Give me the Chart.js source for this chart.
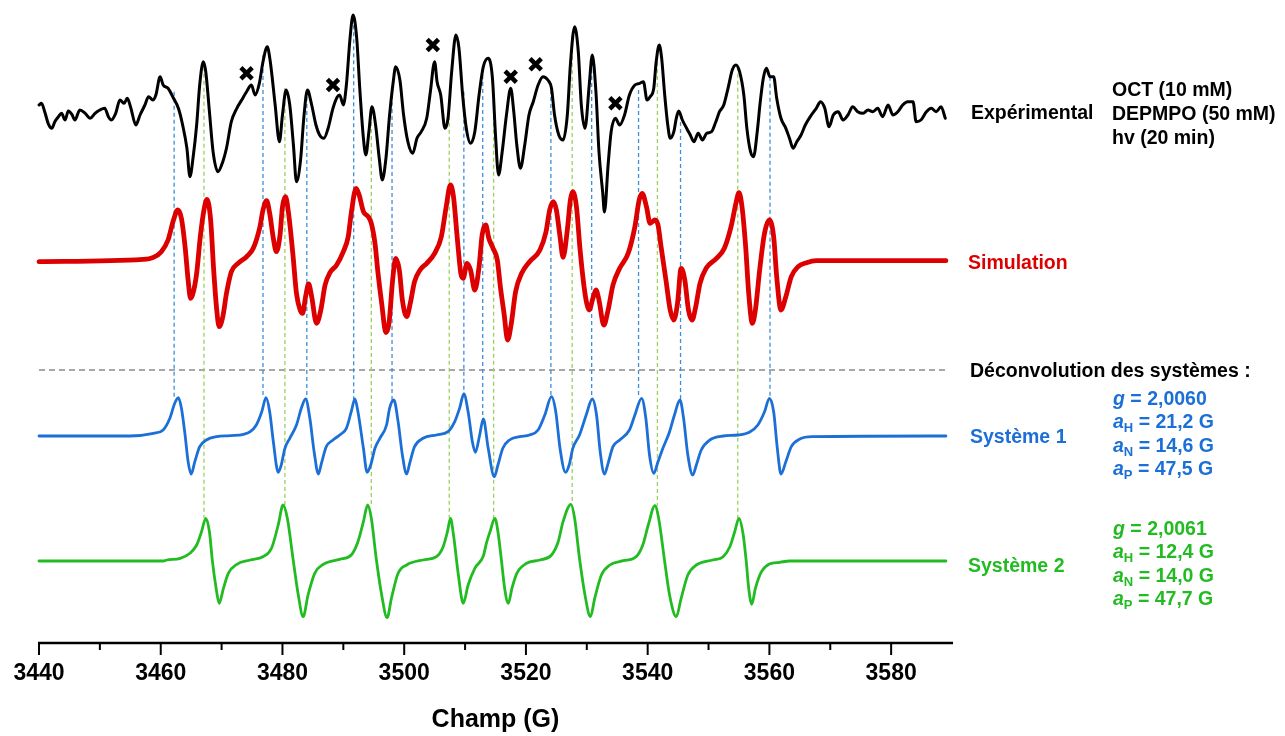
<!DOCTYPE html>
<html><head><meta charset="utf-8">
<script src="https://cdn.jsdelivr.net/npm/chart.js@4.4.0/dist/chart.umd.min.js"></script>
<style>
html,body{margin:0;padding:0;background:#fff;}
#wrap{position:relative;width:1285px;height:736px;overflow:hidden;background:#fff;}
canvas{position:absolute;left:0;top:0;}
.t{position:absolute;font-family:"Liberation Sans",Arial,sans-serif;font-weight:bold;font-size:19.5px;line-height:24px;white-space:nowrap;}
.k{color:#000}
.r{color:#dd0000}
.b{color:#1b6fd6}
.g{color:#22bb22}
.t i{font-style:italic}
.t sub{font-size:13px;vertical-align:-4px;line-height:0}
</style></head>
<body><div id="wrap"><canvas id="c" width="1285" height="736"></canvas>
<div class="t k" style="left:971px;top:100px">Expérimental</div>
<div class="t k" style="left:1112px;top:77px">OCT (10 mM)</div>
<div class="t k" style="left:1112px;top:101px">DEPMPO (50 mM)</div>
<div class="t k" style="left:1112px;top:125px">hv (20 min)</div>
<div class="t r" style="left:968px;top:250px">Simulation</div>
<div class="t k" style="left:970px;top:358px">Déconvolution des systèmes :</div>
<div class="t b" style="left:970px;top:424px">Système 1</div>
<div class="t b" style="left:1113px;top:386px"><i>g</i> = 2,0060</div>
<div class="t b" style="left:1113px;top:409px"><i>a</i><sub>H</sub> = 21,2 G</div>
<div class="t b" style="left:1113px;top:433px"><i>a</i><sub>N</sub> = 14,6 G</div>
<div class="t b" style="left:1113px;top:456px"><i>a</i><sub>P</sub> = 47,5 G</div>
<div class="t g" style="left:968px;top:553px">Système 2</div>
<div class="t g" style="left:1113px;top:516px"><i>g</i> = 2,0061</div>
<div class="t g" style="left:1113px;top:539px"><i>a</i><sub>H</sub> = 12,4 G</div>
<div class="t g" style="left:1113px;top:563px"><i>a</i><sub>N</sub> = 14,0 G</div>
<div class="t g" style="left:1113px;top:586px"><i>a</i><sub>P</sub> = 47,7 G</div>
</div>
<script>
// ---- Data: [field (G), signal (arb. units)] ----
const experimental = [[3440.0,8],[3440.4,9.7],[3441.0,0],[3441.5,-10.3],[3442.1,-15.3],[3442.6,-8.7],[3443.2,-3.7],[3443.7,-0.3],[3444.3,-7],[3444.8,2],[3445.4,-1.3],[3445.9,-7],[3446.7,3],[3447.6,-0.3],[3448.4,-5.3],[3449.2,-0.3],[3450.0,3],[3450.8,4.7],[3451.4,-3.7],[3451.9,-7],[3452.6,-0.3],[3453.3,13],[3454.0,9.7],[3454.5,14.7],[3455.1,4.7],[3455.9,-12],[3456.6,-2],[3457.4,8],[3458.0,16.3],[3458.7,13],[3459.2,18],[3459.9,36.3],[3460.4,28],[3461.2,24.7],[3462.1,14.7],[3462.9,4.7],[3463.6,-12],[3464.3,-35.3],[3464.8,-63.7],[3465.3,-45.3],[3465.9,-12],[3466.4,28],[3467.0,51.3],[3467.4,41.3],[3468.0,1.3],[3468.6,-38.7],[3469.4,-58.7],[3470.2,-48.7],[3470.8,-35.3],[3471.6,-8.7],[3472.5,4.7],[3473.3,13],[3474.1,21.3],[3474.9,28],[3475.5,18],[3476.2,29.7],[3476.8,51.3],[3477.5,66.3],[3478.0,51.3],[3478.8,8],[3479.5,-28.7],[3480.0,-2],[3480.6,23],[3481.2,8],[3481.8,-32],[3482.3,-68.7],[3483.0,-45.3],[3483.5,-5.3],[3484.1,23],[3484.8,8],[3485.5,-12],[3486.1,-22],[3486.8,-25.3],[3487.5,-15.3],[3488.3,4.7],[3489.0,16],[3489.4,18],[3490.0,8],[3490.5,28],[3491.1,74.7],[3491.6,98],[3492.2,74.7],[3492.7,24.7],[3493.3,-25.3],[3493.7,-42],[3494.2,-18.7],[3494.7,6.3],[3495.3,-12],[3495.9,-45.3],[3496.4,-67],[3497.0,-45.3],[3497.6,-2],[3498.2,31.3],[3498.6,46.3],[3499.3,32.7],[3499.9,-2],[3500.6,-28.7],[3501.4,-40.3],[3502.1,-25.3],[3502.8,-18.7],[3503.7,-5.3],[3504.3,21.3],[3505.0,51.3],[3505.4,31.3],[3506.0,18],[3506.7,-15.3],[3507.2,-5.3],[3507.8,41.3],[3508.5,78],[3509.0,64.7],[3509.6,18],[3510.2,-15.3],[3510.9,-30.3],[3511.6,-18.7],[3512.3,18],[3513.0,46.3],[3513.8,54.7],[3514.5,34.7],[3515.0,-22],[3515.5,-62],[3516.1,-38.7],[3516.8,-2],[3517.5,24.7],[3518.0,1.3],[3518.5,-32],[3519.1,-55.3],[3519.8,-32],[3520.5,-2],[3521.2,11.3],[3522.0,28],[3522.8,36.3],[3523.6,33],[3524.2,24.7],[3524.7,-2],[3525.4,-22],[3526.1,-27],[3526.8,-2],[3527.3,48],[3528.0,86.3],[3528.6,61.3],[3529.1,8],[3529.7,-15.3],[3530.4,28],[3530.9,58],[3531.5,21.3],[3532.0,-38.7],[3532.6,-78.7],[3532.9,-99],[3533.5,-52],[3534.0,-18.7],[3534.7,-5.3],[3535.4,-12],[3536.2,-2],[3537.0,18],[3537.9,28],[3538.7,29.7],[3539.3,31.3],[3539.9,13],[3540.4,16.3],[3541.0,24.7],[3541.4,51.3],[3541.9,68],[3542.3,54.7],[3542.8,18],[3543.3,-12],[3543.7,-25.3],[3544.3,-18.7],[3544.7,-5.3],[3545.1,2],[3545.7,-7],[3546.4,-15.3],[3547.0,-22],[3547.6,-28.7],[3548.3,-20.3],[3549.0,-27],[3549.7,-20.3],[3550.5,-18.7],[3551.2,-8.7],[3551.8,1.3],[3552.5,8],[3553.2,24.7],[3553.9,43],[3554.5,48],[3555.1,41.3],[3555.8,18],[3556.3,-15.3],[3556.9,-38.7],[3557.4,-43.7],[3558.0,-18.7],[3558.5,11.3],[3559.0,34.7],[3559.5,44.7],[3560.1,36.3],[3560.7,36.3],[3561.2,14.7],[3561.9,-5.3],[3562.7,-15.3],[3563.3,-25.3],[3563.9,-35.3],[3564.5,-28.7],[3565.2,-22],[3565.9,-12],[3566.9,-2],[3567.7,4.7],[3568.4,11.3],[3569.1,4.7],[3569.8,-13.7],[3570.5,-2],[3571.3,1.3],[3572.1,-7],[3572.9,-2],[3573.7,6.3],[3574.5,1.3],[3575.4,-0.3],[3576.2,3],[3577.0,1.3],[3577.8,4.7],[3578.6,-3.7],[3579.5,8],[3580.3,-2],[3581.1,1.3],[3581.9,8],[3582.7,11.3],[3583.6,11.3],[3584.1,-8.7],[3584.9,-7],[3585.8,1.3],[3586.6,4.7],[3587.4,1.3],[3588.2,6.3],[3588.9,-5.3]];

const simulation = [[3440,-1],[3457.1,1.3],[3458.8,3.3],[3460.1,9],[3461.2,20.7],[3462.1,40.7],[3462.8,50.7],[3463.4,42.3],[3464.0,14],[3464.5,-19.3],[3464.9,-37.7],[3465.3,-32.7],[3465.9,-12.7],[3466.5,24],[3467.1,50.7],[3467.6,61.4],[3468.2,40.7],[3468.7,-9.3],[3469.2,-49.3],[3469.6,-66],[3470.2,-56],[3470.8,-32.7],[3471.6,-11],[3472.7,-2.7],[3474.1,4],[3475.2,12.4],[3476.3,34],[3476.8,50.7],[3477.4,60],[3477.9,47.4],[3478.5,22.4],[3479.0,9],[3479.6,25.7],[3480.0,54],[3480.5,64],[3481.0,47.4],[3481.7,7.4],[3482.3,-32.7],[3482.9,-49.3],[3483.3,-52.7],[3483.8,-36],[3484.3,-23.3],[3484.8,-36],[3485.6,-62.6],[3486.3,-49.3],[3487.0,-24.3],[3487.8,-12],[3488.9,-4.3],[3490.0,9],[3490.8,24],[3491.3,47.4],[3492.1,72.4],[3492.6,65.7],[3493.3,49],[3494.1,44],[3494.6,37.4],[3495.2,17.4],[3495.7,-12.6],[3496.3,-42.6],[3497.0,-72],[3497.5,-62.6],[3498.1,-19.3],[3498.6,2.4],[3499.2,-9.3],[3499.7,-39.3],[3500.4,-56],[3501.0,-42.6],[3501.7,-21],[3502.6,-9.3],[3503.7,-2.6],[3505.0,7.4],[3506.1,24],[3506.9,54],[3507.6,75.7],[3508.1,64],[3508.7,24],[3509.3,-12.6],[3509.7,-17.6],[3510.3,-2.6],[3510.9,-9.3],[3511.6,-29.3],[3512.3,-6],[3512.8,25.7],[3513.4,35.7],[3513.9,22.4],[3514.6,12.4],[3515.3,0.7],[3515.8,-26],[3516.4,-52.6],[3517.0,-79.3],[3517.6,-62.6],[3518.3,-31],[3519.3,-12.6],[3520.6,-1],[3522.3,10.7],[3523.3,29],[3523.9,50.7],[3524.5,59],[3525.0,50.7],[3525.6,24],[3526.1,3.4],[3526.8,30.7],[3527.3,60.7],[3527.7,69],[3528.3,54],[3528.9,10.7],[3529.7,-32.6],[3530.4,-49.3],[3531.0,-37.6],[3531.5,-29.3],[3532.0,-39.3],[3532.8,-64.3],[3533.5,-49.3],[3534.3,-24.3],[3535.4,-7.6],[3536.8,7.4],[3537.9,34],[3538.6,60.7],[3539.1,67.4],[3539.8,54],[3540.4,37.4],[3541.2,40.7],[3541.7,35.7],[3542.2,14],[3543.0,-19.3],[3543.7,-49.3],[3544.3,-59.3],[3544.9,-42.6],[3545.5,-7.6],[3546.1,-19.3],[3546.7,-49.3],[3547.3,-59.3],[3547.9,-46],[3548.6,-22.6],[3549.6,-7.6],[3551.3,2.4],[3552.6,12.4],[3553.7,34],[3554.5,57.4],[3555.0,68],[3555.5,54],[3556.1,14],[3556.6,-32.6],[3557.2,-62.6],[3557.7,-49.3],[3558.4,-9.3],[3559.2,27.4],[3560.0,40.7],[3560.7,24],[3561.2,-16],[3561.9,-49.3],[3562.7,-36],[3563.6,-16],[3564.7,-6],[3566.1,-2],[3567.7,0],[3589.0,0]];

const systeme1 = [[3440,0],[3454.9,0],[3458.8,2.7],[3460.4,6],[3461.5,17.7],[3462.3,32.7],[3462.9,38.3],[3463.4,27.7],[3464.0,1],[3464.5,-25.7],[3465.0,-38],[3465.6,-25.7],[3466.4,-10.7],[3467.5,-4],[3469.2,-0.7],[3471.4,0.3],[3473.6,1.7],[3474.7,4.3],[3475.7,11],[3476.6,24.3],[3477.3,38.3],[3477.9,24.3],[3478.5,-5.7],[3479.3,-36.3],[3479.8,-29],[3480.4,-12.3],[3481.2,-2.3],[3482.3,11],[3483.1,27.7],[3483.8,37],[3484.5,17.7],[3485.2,-15.7],[3485.9,-38],[3486.4,-27.3],[3487.2,-10.7],[3488.3,-4],[3489.4,1],[3490.5,7.7],[3491.3,24.3],[3491.9,37],[3492.4,24.3],[3493.3,-12.3],[3493.9,-36.3],[3494.5,-29],[3495.2,-12.3],[3496.0,-2.3],[3497.1,11],[3497.6,27.7],[3498.3,36],[3499.0,14.3],[3499.7,-19],[3500.4,-38],[3500.9,-27.3],[3501.7,-10.7],[3503.1,-2.3],[3505.3,1],[3507.2,4.3],[3508.3,14.3],[3509.1,27.7],[3509.8,42],[3510.5,24.3],[3511.2,-5.7],[3511.7,-16.3],[3512.4,1],[3513.0,17],[3513.8,-12.3],[3514.8,-40.7],[3515.4,-29],[3516.2,-12.3],[3517.3,-4],[3519.0,-0.7],[3520.6,1],[3522.0,6],[3523.1,21],[3524.2,39.3],[3524.9,24.3],[3525.6,-12.3],[3526.5,-36.3],[3527.1,-29],[3527.7,-12.3],[3528.8,1],[3529.9,21],[3530.9,37],[3531.6,21],[3532.2,-15.7],[3532.9,-38],[3533.5,-27.3],[3534.3,-10.7],[3535.4,-4],[3537.0,6],[3537.9,21],[3539.0,37.7],[3539.7,17.7],[3540.3,-19],[3541.0,-37.3],[3541.7,-25.7],[3542.5,-12.3],[3543.6,4.3],[3544.4,21],[3545.3,36],[3545.9,17.7],[3546.6,-19],[3547.4,-39],[3548.0,-29],[3548.8,-14],[3550.2,-4],[3552.4,0],[3554.8,1],[3556.7,3.7],[3558.1,11],[3559.2,24.3],[3560.0,37.7],[3560.7,24.3],[3561.3,-12.3],[3561.9,-38],[3562.7,-25.7],[3563.6,-10.7],[3565.0,-3],[3567.1,-0.7],[3589.0,0]];

const systeme2 = [[3440,0],[3460.4,0],[3461.0,1],[3463.2,2.7],[3464.8,7.7],[3465.9,16],[3466.7,29.3],[3467.4,42.7],[3468.0,29.3],[3468.5,-0.7],[3469.1,-27.3],[3469.6,-42.3],[3470.3,-27.3],[3471.1,-12.3],[3472.5,-3.3],[3474.7,1],[3476.8,4.3],[3478.2,12.7],[3479.3,36],[3480.1,56],[3480.8,42.7],[3481.8,-0.7],[3482.6,-34],[3483.4,-55.7],[3484.2,-34],[3485.3,-12.3],[3486.7,-3.3],[3489.4,1.7],[3491.3,6],[3492.4,19.3],[3493.3,39.3],[3494.0,56],[3494.6,42.7],[3495.4,2.7],[3496.3,-34],[3497.2,-56.7],[3497.9,-37.3],[3499.0,-12.3],[3500.4,-4],[3503.1,1],[3505.3,4.3],[3506.4,14.3],[3507.1,29.3],[3507.6,42.7],[3508.1,26],[3508.9,-14],[3509.7,-42.3],[3510.5,-24],[3511.6,-7.3],[3513.0,5],[3513.5,17.7],[3514.1,29.3],[3514.9,42.7],[3515.4,29.3],[3516.0,-0.7],[3516.5,-27.3],[3517.1,-42.3],[3517.7,-27.3],[3518.5,-12.3],[3520.1,-2.3],[3522.3,1],[3524.2,6],[3525.3,19.3],[3526.1,39.3],[3527.4,56.7],[3528.0,42.7],[3528.8,2.7],[3529.7,-34],[3530.6,-55.7],[3531.3,-37.3],[3532.4,-14],[3533.8,-4],[3536.0,0.3],[3538.1,4.3],[3539.2,16],[3540.1,36],[3541.2,55.3],[3541.8,42.7],[3542.8,-0.7],[3543.6,-34],[3544.7,-55.7],[3545.5,-37.3],[3546.6,-14],[3548.0,-4],[3550.7,1],[3552.4,4.3],[3553.5,14.3],[3554.3,29.3],[3555.0,42.7],[3555.7,26],[3556.2,-0.7],[3556.6,-27.3],[3557.1,-43.3],[3557.7,-27.3],[3558.7,-10.7],[3560.0,-3],[3561.7,-1.3],[3563.3,0],[3589.0,0]];

// impurity markers (x) on the experimental spectrum: [field, signal]
const impurityMarks = [[3474.1,39.7],[3488.3,28],[3504.7,68],[3517.5,36.3],[3521.6,48.7],[3534.7,9.7]];

// guide lines: [field, signal at experimental top, signal at system peak]
const guides1 = [[3462.2,21.3,38],[3476.8,58,38],[3484.0,23,37],[3491.7,94.7,37],[3498.0,25,36],[3509.8,21.3,42],[3512.9,45,17],[3524.1,30,39],[3530.8,58,37],[3538.5,23,38],[3545.4,-2,36],[3560.1,36.3,38]];
const guides2 = [[3467.1,46.3,42.7],[3480.4,25,56],[3494.6,5,56],[3507.4,11.3,42.7],[3514.7,11.3,42.7],[3527.6,78,56.7],[3541.6,58,55.3],[3554.8,46.3,42.7]];

const xTickValues = [3440,3460,3480,3500,3520,3540,3560,3580];
const X_MIN = 3440, X_MAX = 3590;

// ---- layout constants (vertical offsets of each trace) ----
const OFF = {exp:530, sim:382.3, sys1:207, sys2:82, sep:273};
const COL = {exp:'#000000', sim:'#dd0000', sys1:'#1b6fd6', sys2:'#22bb22', g1:'#3d8fd9', g2:'#9fd05c', sep:'#8a8a8a'};

const pts = (arr, off) => arr.map(p => ({x:p[0], y:off + p[1]}));

const datasets = [];
function curve(arr, off, color, width){
  datasets.push({data:pts(arr, off), borderColor:color, borderWidth:width, pointRadius:0,
    fill:false, cubicInterpolationMode:'monotone',
    borderJoinStyle:'round', borderCapStyle:'round', order:1, clip:false});
}
curve(experimental, OFF.exp, COL.exp, 3);
curve(simulation, OFF.sim, COL.sim, 4.8);
curve(systeme1, OFF.sys1, COL.sys1, 2.8);
curve(systeme2, OFF.sys2, COL.sys2, 2.8);

guides1.forEach(g => datasets.push({data:[{x:g[0],y:OFF.exp+g[1]},{x:g[0],y:OFF.sys1+g[2]}],
  borderColor:COL.g1, borderWidth:1.3, borderDash:[4,3], pointRadius:0, order:10, clip:false}));
guides2.forEach(g => datasets.push({data:[{x:g[0],y:OFF.exp+g[1]},{x:g[0],y:OFF.sys2+g[2]}],
  borderColor:COL.g2, borderWidth:1.3, borderDash:[4,3], pointRadius:0, order:10, clip:false}));

datasets.push({data:[{x:X_MIN,y:OFF.sep},{x:3589.5,y:OFF.sep}], borderColor:COL.sep, borderWidth:1.5,
  borderDash:[6,4], pointRadius:0, order:10, clip:false});

datasets.push({data:pts(impurityMarks, OFF.exp), showLine:false, pointStyle:'crossRot', pointRadius:8,
  pointBorderWidth:4.5, pointBorderColor:'#000', pointBackgroundColor:'#000', borderColor:'#000', order:0, clip:false});

const axisPlugin = {
  id:'axisTicks',
  afterDraw(chart){
    const {ctx, scales:{x}, chartArea} = chart;
    const y0 = chartArea.bottom;
    ctx.save();
    ctx.strokeStyle = '#000';
    ctx.lineWidth = 2.6;
    ctx.beginPath();
    ctx.moveTo(x.getPixelForValue(X_MIN)-1, y0);
    ctx.lineTo(x.getPixelForValue(X_MAX)+1, y0);
    ctx.stroke();
    ctx.lineWidth = 2;
    x.ticks.forEach(t => {
      if (t.value >= X_MAX) return;
      const px = x.getPixelForValue(t.value);
      const len = xTickValues.includes(t.value) ? 12 : 7;
      ctx.beginPath(); ctx.moveTo(px, y0); ctx.lineTo(px, y0 + len); ctx.stroke();
    });
    ctx.restore();
  }
};

new Chart(document.getElementById('c'), {
  type:'line',
  data:{datasets},
  options:{
    responsive:false, animation:false, devicePixelRatio:1,
    layout:{autoPadding:false, padding:{left:39, right:333, top:0, bottom:0}},
    plugins:{legend:{display:false}, tooltip:{enabled:false}},
    scales:{
      x:{type:'linear', min:X_MIN, max:X_MAX,
        afterFit(s){ s.height = 93; },
        grid:{display:false, drawTicks:true, tickLength:12},
        border:{display:false},
        ticks:{stepSize:10, autoSkip:false, maxRotation:0, padding:5, color:'#000',
          font:{family:'Liberation Sans', size:23, weight:'bold'},
          callback:(v)=> xTickValues.includes(v) ? String(v) : ''},
        title:{display:true, text:'Champ (G)', color:'#000',
          font:{family:'Liberation Sans', size:25, weight:'bold'}, padding:{top:0, bottom:1}}
      },
      y:{display:false, min:0, max:643}
    }
  },
  plugins:[axisPlugin]
});
</script>
</body></html>
